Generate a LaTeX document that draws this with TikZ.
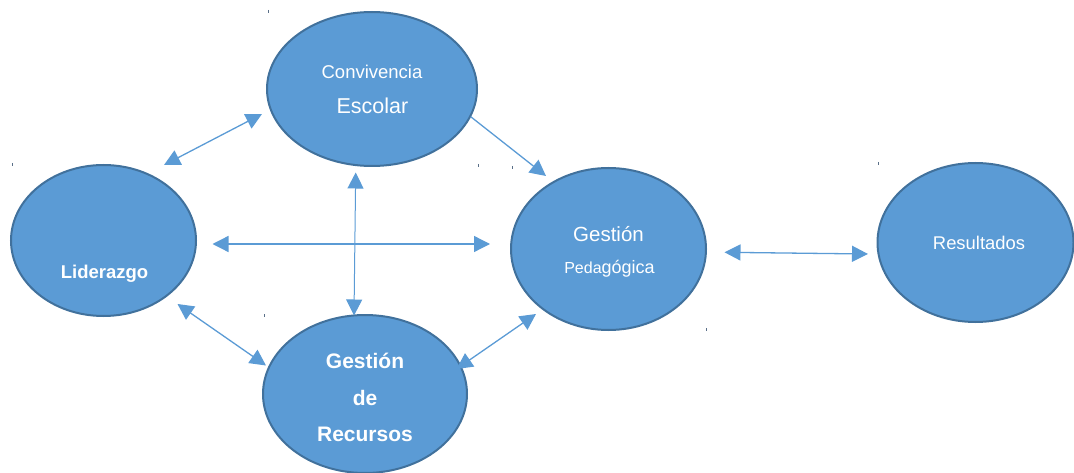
\documentclass[tikz,border=0pt]{standalone}
\usepackage{fontspec}
\setmainfont{Liberation Sans}
\usetikzlibrary{shapes.geometric,arrows.meta}
\definecolor{fillblue}{HTML}{5B9BD5}
\definecolor{edgeblue}{HTML}{41719C}
\definecolor{arrowblue}{HTML}{5B9BD5}
\definecolor{tickgray}{HTML}{5A6F88}
\tikzset{
  bubble/.style={ellipse, draw=edgeblue, line width=2pt, fill=fillblue, inner sep=0pt},
  label/.style={text=white, anchor=base, inner sep=0pt},
  link/.style={draw=arrowblue, line width=1.3pt, -{Triangle[length=16pt,width=16pt]}},
  dlink/.style={draw=arrowblue, line width=1.3pt, {Triangle[length=16pt,width=16pt]}-{Triangle[length=16pt,width=16pt]}},
  tick/.style={draw=tickgray, line width=0.8pt}
}
\begin{document}
\begin{tikzpicture}[x=1pt,y=-1pt]
\useasboundingbox (0,0) rectangle (1074,473);
% ellipses
\node[bubble, minimum width=210pt, minimum height=154pt] (conv) at (372,89) {};
\node[bubble, minimum width=185pt, minimum height=151pt] (lid) at (103.5,240.5) {};
\node[bubble, minimum width=195pt, minimum height=162pt] (ped) at (608.5,249) {};
\node[bubble, minimum width=196pt, minimum height=159pt] (res) at (975.5,242.5) {};
\node[bubble, minimum width=204pt, minimum height=158pt] (rec) at (365,394) {};
% texts
\node[label, font=\fontsize{18.5}{20}\selectfont] (t1) at (372,79) {Convivencia};
\node[label, font=\fontsize{21.5}{24}\selectfont] (t2) at (372.5,114) {Escolar};
\node[label, font=\fontsize{20.5}{24}\selectfont] (t3) at (608.5,241.5) {Gestión};
\node[label] (t4) at (609.5,273.5) {{\fontsize{16}{18}\selectfont Peda}{\fontsize{18}{20}\selectfont gógica}};
\node[label, font=\fontsize{18.5}{20}\selectfont\bfseries] (t5) at (104.5,279) {Liderazgo};
\node[label, font=\fontsize{18.4}{20}\selectfont] (t6) at (979,250) {Resultados};
\node[label, font=\fontsize{21}{24}\selectfont\bfseries] (t7) at (365,368) {Gestión};
\node[label, font=\fontsize{21}{24}\selectfont\bfseries] (t8) at (365,405) {de};
\node[label, font=\fontsize{21}{24}\selectfont\bfseries] (t9) at (365,441.5) {Recursos};
% connector end points
\coordinate (a1) at (164,165);  \coordinate (a2) at (262,114);
\coordinate (b1) at (470.7,116.7); \coordinate (b2) at (546,176);
\coordinate (c1) at (355.7,172.5); \coordinate (c2) at (354,315.5);
\coordinate (d1) at (212.5,244); \coordinate (d2) at (490,244);
\coordinate (e1) at (177.5,304); \coordinate (e2) at (266,365.5);
\coordinate (f1) at (536,314); \coordinate (f2) at (456.5,369);
\coordinate (g1) at (724.5,252.3); \coordinate (g2) at (868,254);
\draw[dlink] (a1) -- (a2);
\draw[link] (b1) -- (b2);
\draw[dlink, line width=1pt] (c1) -- (c2);
\draw[dlink] (d1) -- (d2);
\draw[dlink] (e1) -- (e2);
\draw[dlink] (f1) -- (f2);
\draw[dlink] (g1) -- (g2);
% stray ticks
\coordinate (k1) at (268,10); \coordinate (k1e) at (268,13);
\coordinate (k2) at (12,163); \coordinate (k2e) at (12,166);
\coordinate (k3) at (478,164); \coordinate (k3e) at (478,167);
\coordinate (k4) at (512,166); \coordinate (k4e) at (512,169);
\coordinate (k5) at (264,314); \coordinate (k5e) at (264,317);
\coordinate (k6) at (706,328); \coordinate (k6e) at (706,331);
\coordinate (k7) at (878,162); \coordinate (k7e) at (878,165);
\foreach \k in {k1,k2,k3,k4,k5,k6,k7} {\draw[tick] (\k) -- (\k e);}
\end{tikzpicture}
\end{document}
